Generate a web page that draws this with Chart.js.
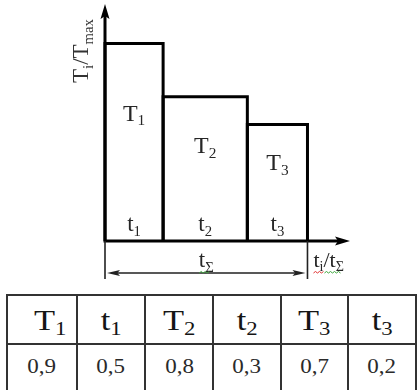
<!DOCTYPE html>
<html>
<head>
<meta charset="utf-8">
<script src="https://cdn.jsdelivr.net/npm/chart.js@4.4.1/dist/chart.umd.min.js"></script>
<style>
  html, body { margin: 0; padding: 0; background: #fff; width: 417px; height: 390px; overflow: hidden; }
  #diagrama { position: absolute; left: 0; top: 0; }
  table.datos { position: absolute; left: 6px; top: 294px; border-collapse: collapse; table-layout: fixed;
    font-family: "Liberation Serif", "Times New Roman", serif; color: #151515; }
  table.datos td { border: 2px solid #333; text-align: center; padding: 0; overflow: hidden; }
  table.datos tr.cab td { height: 47px; font-size: 30px; }
  table.datos tr.val td { height: 54px; font-size: 20px; color: #2a2a2a; vertical-align: top; padding-top: 10px; }
  table.datos .ancho { display: inline-block; transform: scaleX(1.15); }
  table.datos .ind { font-size: 0.66em; position: relative; top: 0.28em; }
</style>
</head>
<body>
<canvas id="diagrama" width="417" height="290"></canvas>
<table class="datos">
  <colgroup><col style="width:71px"><col style="width:70px"><col style="width:70px"><col style="width:69px"><col style="width:69px"><col style="width:70px"></colgroup>
  <tr class="cab" id="filaCab"></tr>
  <tr class="val" id="filaVal"></tr>
</table>
<script>
// datos del diagrama escalonado
const pasos = ['1', '2', '3'];
const anchos = [0.287, 0.416, 0.297];   // t_i / t_suma
const alturas = [1.0, 0.73, 0.59];      // T_i / T_max
const xMax = 1.21;
const yMax = 1.2;

// datos de la tabla
const encabezados = [['T', '1'], ['t', '1'], ['T', '2'], ['t', '2'], ['T', '3'], ['t', '3']];
const valores = ['0,9', '0,5', '0,8', '0,3', '0,7', '0,2'];

// llenar la tabla
const filaCab = document.getElementById('filaCab');
const filaVal = document.getElementById('filaVal');
encabezados.forEach((e, i) => {
    const td = document.createElement('td');
    td.innerHTML = '<span class="ancho">' + e[0] + '<span class="ind">' + e[1] + '</span></span>';
    if (i === 0) td.style.paddingLeft = '16px';
    filaCab.appendChild(td);
});
valores.forEach(v => {
    const td = document.createElement('td');
    td.innerHTML = '<span class="ancho">' + v + '</span>';
    filaVal.appendChild(td);
});

// bordes de cada escalon
let bordes = [0];
anchos.forEach(a => bordes.push(bordes[bordes.length - 1] + a));

const datasets = pasos.map((p, i) => ({
    label: 'T' + p,
    data: [
        { x: bordes[i], y: 0 },
        { x: bordes[i], y: alturas[i] },
        { x: bordes[i + 1], y: alturas[i] },
        { x: bordes[i + 1], y: 0 }
    ],
    showLine: true,
    borderColor: '#000',
    borderWidth: 3,
    pointRadius: 0,
    fill: false,
    clip: 4
}));

const FUENTE = '"Liberation Serif", "Times New Roman", serif';

// texto con subindices: partes = [[texto, esSub], ...]
function textoSub(ctx, partes, x, y, tam, alinear) {
    const tamSub = tam * 0.64;
    let total = 0;
    partes.forEach(p => {
        ctx.font = (p[1] ? tamSub : tam) + 'px ' + FUENTE;
        total += ctx.measureText(p[0]).width;
    });
    let cx = alinear === 'left' ? x : x - total / 2;
    ctx.textAlign = 'left';
    ctx.textBaseline = 'alphabetic';
    partes.forEach(p => {
        ctx.font = (p[1] ? tamSub : tam) + 'px ' + FUENTE;
        ctx.fillText(p[0], cx, p[1] ? y + tam * 0.2 : y);
        cx += ctx.measureText(p[0]).width;
    });
}

function flecha(ctx, xp, yp, dx, dy, largo, ancho) {
    // punta en (xp, yp), apuntando en direccion (dx, dy)
    const nx = -dy, ny = dx;
    ctx.beginPath();
    ctx.moveTo(xp, yp);
    ctx.lineTo(xp - dx * largo + nx * ancho, yp - dy * largo + ny * ancho);
    ctx.lineTo(xp - dx * largo * 0.8, yp - dy * largo * 0.8);
    ctx.lineTo(xp - dx * largo - nx * ancho, yp - dy * largo - ny * ancho);
    ctx.closePath();
    ctx.fill();
}

function ondita(ctx, x1, x2, y, color) {
    ctx.strokeStyle = color;
    ctx.lineWidth = 1;
    ctx.beginPath();
    ctx.moveTo(x1, y);
    let arriba = true;
    for (let x = x1 + 2; x <= x2; x += 2) {
        ctx.lineTo(x, arriba ? y - 1.5 : y);
        arriba = !arriba;
    }
    ctx.stroke();
}

const ejesYTextos = {
    id: 'ejesYTextos',
    afterDatasetsDraw(chart) {
        const ctx = chart.ctx;
        const ex = chart.scales.x;
        const ey = chart.scales.y;
        const x0 = ex.getPixelForValue(0);
        const y0 = ey.getPixelForValue(0);
        const xFin = ex.getPixelForValue(xMax);
        const yFin = ey.getPixelForValue(yMax);
        const xSuma = ex.getPixelForValue(bordes[bordes.length - 1]);
        ctx.save();
        ctx.strokeStyle = '#000';
        ctx.fillStyle = '#000';

        // ejes
        ctx.lineWidth = 3;
        ctx.beginPath();
        ctx.moveTo(x0, y0);
        ctx.lineTo(x0, yFin + 10);
        ctx.moveTo(x0 - 1.5, y0);
        ctx.lineTo(xFin - 10, y0);
        ctx.stroke();
        flecha(ctx, x0, yFin, 0, -1, 15, 4.5);
        flecha(ctx, xFin, y0, 1, 0, 15, 4.5);

        // cota de t suma
        const yCota = y0 + 32;
        ctx.lineWidth = 1.6;
        ctx.strokeStyle = '#222';
        ctx.beginPath();
        ctx.moveTo(x0, y0);
        ctx.lineTo(x0, y0 + 38);
        ctx.moveTo(xSuma, y0);
        ctx.lineTo(xSuma, y0 + 38);
        ctx.moveTo(x0 + 8, yCota);
        ctx.lineTo(xSuma - 8, yCota);
        ctx.stroke();
        ctx.fillStyle = '#222';
        flecha(ctx, x0 + 2, yCota, -1, 0, 13, 3);
        flecha(ctx, xSuma - 2, yCota, 1, 0, 13, 3);

        // textos dentro de los escalones
        ctx.fillStyle = '#262626';
        pasos.forEach((p, i) => {
            const xc = ex.getPixelForValue((bordes[i] + bordes[i + 1]) / 2);
            const yT = ey.getPixelForValue(alturas[i] * 0.61);
            textoSub(ctx, [['T', false], [p, true]], xc, yT, 24, 'center');
            textoSub(ctx, [['t', false], [p, true]], xc, y0 - 10, 23, 'center');
        });

        // t suma y t_i/t suma
        const xMedio = (x0 + xSuma) / 2;
        textoSub(ctx, [['t', false], ['\u03A3', true]], xMedio, y0 + 26, 23, 'center');
        textoSub(ctx, [['t', false], ['i', true], ['/t', false], ['\u03A3', true]], xSuma + 6, y0 + 26, 22, 'left');
        ondita(ctx, xMedio - 7, xMedio + 3, y0 + 32, '#3aa53a');
        ondita(ctx, xSuma + 6, xSuma + 16, y0 + 32, '#e03030');
        ondita(ctx, xSuma + 17, xSuma + 34, y0 + 32, '#3aa53a');

        // titulo del eje vertical
        ctx.fillStyle = '#333';
        ctx.translate(x0 - 17, yFin + 47);
        ctx.rotate(-Math.PI / 2);
        textoSub(ctx, [['T', false], ['i', true], ['/T', false], ['max', true]], 0, 0, 23, 'center');
        ctx.restore();
    }
};

new Chart(document.getElementById('diagrama').getContext('2d'), {
    type: 'scatter',
    data: { datasets: datasets },
    options: {
        responsive: false,
        animation: false,
        devicePixelRatio: 1,
        layout: { padding: { left: 105, right: 67, top: 4, bottom: 49 } },
        scales: {
            x: { type: 'linear', min: 0, max: xMax, display: false },
            y: { type: 'linear', min: 0, max: yMax, display: false }
        },
        plugins: { legend: { display: false }, tooltip: { enabled: false } }
    },
    plugins: [ejesYTextos]
});
</script>
</body>
</html>
